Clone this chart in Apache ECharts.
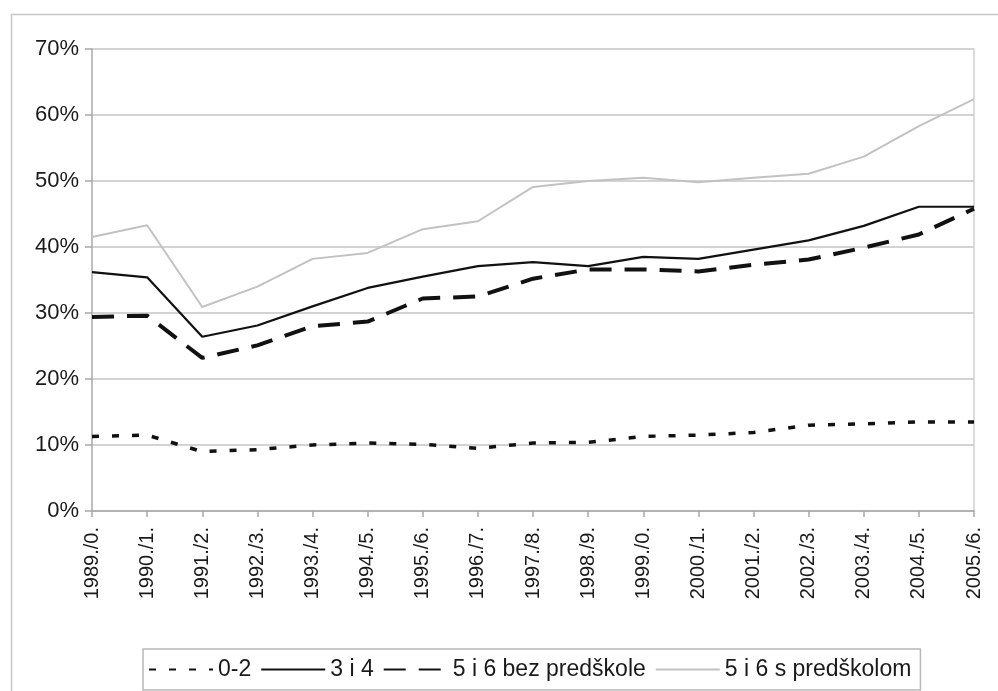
<!DOCTYPE html>
<html>
<head>
<meta charset="utf-8">
<script src="https://cdn.jsdelivr.net/npm/echarts@6/dist/echarts.min.js"></script>
<style>
html,body{margin:0;padding:0;background:#fff;}
#chart{width:998px;height:691px;}
</style>
</head>
<body>
<div id="chart"></div>
<script>
const categories = ["1989./0.","1990./1.","1991./2.","1992./3.","1993./4.","1994./5.","1995./6.","1996./7.","1997./8.","1998./9.","1999./0.","2000./1.","2001./2.","2002./3.","2003./4.","2004./5.","2005./6."];
const seriesNames = ["0-2", "3 i 4", "5 i 6 bez predškole", "5 i 6 s predškolom"];
const age02 = [11.3, 11.5, 9.0, 9.3, 10.0, 10.3, 10.1, 9.5, 10.3, 10.4, 11.3, 11.5, 11.9, 13.0, 13.2, 13.5, 13.5];
const age34 = [36.2, 35.4, 26.4, 28.1, 31.0, 33.8, 35.5, 37.1, 37.7, 37.1, 38.5, 38.2, 39.6, 41.0, 43.2, 46.1, 46.1];
const age56bez = [29.4, 29.6, 23.2, 25.1, 28.0, 28.7, 32.2, 32.5, 35.2, 36.6, 36.6, 36.3, 37.3, 38.1, 39.9, 41.9, 45.8];
const age56s = [41.5, 43.3, 30.9, 34.0, 38.2, 39.1, 42.7, 43.9, 49.1, 50.0, 50.5, 49.8, 50.5, 51.1, 53.7, 58.3, 62.4];
const yTicks = {min: 0, max: 70, interval: 10};

const font = '"Liberation Sans", Arial, sans-serif';
const chart = echarts.init(document.getElementById('chart'));
chart.setOption({
  animation: false,
  backgroundColor: '#fff',
  textStyle: {fontFamily: font},
  graphic: [{
    type: 'rect', left: 9, top: 12, silent: true,
    shape: {width: 1010, height: 700},
    style: {fill: 'none', stroke: '#c8c8c8', lineWidth: 1.5}
  }],
  grid: {left: 92, right: 24, top: 49, bottom: 180, containLabel: false},
  legend: {
    left: 143, top: 649,
    padding: [9, 9, 9, 5],
    borderColor: '#b8b8b8', borderWidth: 1.5,
    itemWidth: 64, itemHeight: 20, itemGap: 9,
    itemStyle: {opacity: 0},
    textStyle: {fontFamily: font, fontSize: 23, color: '#1a1a1a', lineHeight: 22},
    data: seriesNames
  },
  xAxis: {
    type: 'category',
    data: categories,
    boundaryGap: false,
    axisLine: {lineStyle: {color: '#a8a8a8', width: 1.5}},
    axisTick: {show: true, length: 6, lineStyle: {color: '#a8a8a8', width: 1.5}},
    axisLabel: {rotate: 90, margin: 16, fontSize: 20, color: '#1a1a1a', fontFamily: font, interval: 0},
    splitLine: {show: false}
  },
  yAxis: [{
    type: 'value',
    min: yTicks.min, max: yTicks.max, interval: yTicks.interval,
    axisLine: {show: true, lineStyle: {color: '#a8a8a8', width: 1.5}},
    axisTick: {show: true, length: 7, lineStyle: {color: '#a8a8a8', width: 1.5}},
    axisLabel: {formatter: '{value}%', fontSize: 22, color: '#1a1a1a', margin: 13, fontFamily: font},
    splitLine: {show: true, lineStyle: {color: '#c4c4c4', width: 1.5}}
  }, {
    type: 'value', position: 'right',
    min: yTicks.min, max: yTicks.max, interval: yTicks.interval,
    axisLine: {show: true, lineStyle: {color: '#d0d0d0', width: 1.5}},
    axisTick: {show: false}, axisLabel: {show: false}, splitLine: {show: false}
  }],
  series: [
    {name: seriesNames[0], type: 'line', data: age02, symbol: 'none',
     lineStyle: {color: '#111', width: 3.5, type: [7, 13]}, itemStyle: {color: '#111'}},
    {name: seriesNames[1], type: 'line', data: age34, symbol: 'none',
     lineStyle: {color: '#111', width: 2.2, type: 'solid'}, itemStyle: {color: '#111'}},
    {name: seriesNames[2], type: 'line', data: age56bez, symbol: 'none',
     lineStyle: {color: '#111', width: 4, type: [22, 13]}, itemStyle: {color: '#111'}},
    {name: seriesNames[3], type: 'line', data: age56s, symbol: 'none',
     lineStyle: {color: '#c2c2c2', width: 2}, itemStyle: {color: '#c2c2c2'}}
  ]
});
</script>
</body>
</html>
